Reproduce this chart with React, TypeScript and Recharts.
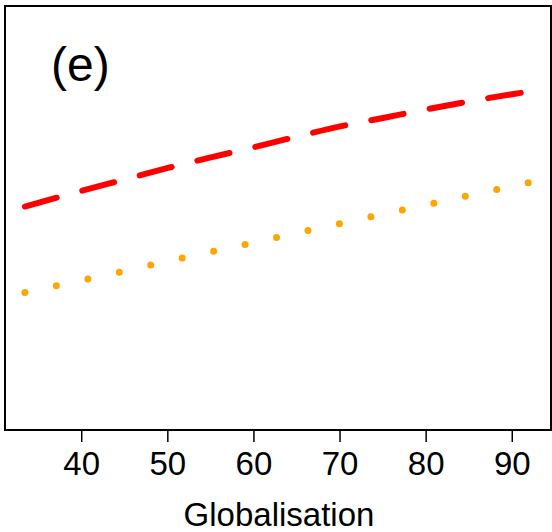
import { LineChart, Line, XAxis, YAxis, ReferenceArea } from "recharts";

// x values (globalisation index) sampled along the fitted curves
const globalisation = [33.4, 40, 45, 50, 55, 60, 65, 70, 75, 80, 85, 90, 92.2];
// red dashed curve
const redSeries = [0.527, 0.564, 0.591, 0.618, 0.643, 0.667, 0.692, 0.716, 0.736, 0.756, 0.775, 0.792, 0.799];
// orange dotted curve
const orangeSeries = [0.324, 0.353, 0.375, 0.398, 0.42, 0.442, 0.465, 0.487, 0.509, 0.531, 0.553, 0.575, 0.585];
const xTicks = [40, 50, 60, 70, 80, 90];
const panelLabel = "(e)";
const xTitle = "Globalisation";

const FONT = "'Liberation Sans', Arial, Helvetica, sans-serif";
const X_DOMAIN = [31.09, 94.5];

export default function App() {
  const data = globalisation.map((g, i) => ({ g, red: redSeries[i], orange: orangeSeries[i] }));

  return (
    <div style={{ position: "absolute", left: 0, top: 0, width: 552, height: 532, background: "#fff" }}>
      <LineChart width={552} height={532} data={data} margin={{ top: 6, right: 1, bottom: 0, left: 5 }}>
        <XAxis
          dataKey="g"
          type="number"
          domain={X_DOMAIN}
          ticks={xTicks}
          allowDataOverflow
          height={102}
          axisLine={false}
          tickSize={12}
          tickMargin={10}
          tickLine={{ stroke: "#000", strokeWidth: 1.5 }}
          tick={{ fill: "#000", fontSize: 33, fontFamily: FONT }}
        />
        <YAxis hide domain={[0, 1]} />
        <ReferenceArea x1={X_DOMAIN[0]} x2={X_DOMAIN[1]} y1={0} y2={1} fill="none" stroke="#000" strokeWidth={2} />
        <Line
          type="monotone"
          dataKey="orange"
          stroke="#FFA500"
          strokeWidth={7}
          strokeDasharray="0 32.2"
          strokeLinecap="round"
          dot={false}
          activeDot={false}
          isAnimationActive={false}
        />
        <Line
          type="monotone"
          dataKey="red"
          stroke="#FF0000"
          strokeWidth={6}
          strokeDasharray="33 26.5"
          strokeLinecap="round"
          dot={false}
          activeDot={false}
          isAnimationActive={false}
        />
        <text x={51} y={81} fontSize={48} fontFamily={FONT} fill="#000">
          {panelLabel}
        </text>
        <text x={279} y={526} fontSize={33} fontFamily={FONT} fill="#000" textAnchor="middle">
          {xTitle}
        </text>
      </LineChart>
    </div>
  );
}
